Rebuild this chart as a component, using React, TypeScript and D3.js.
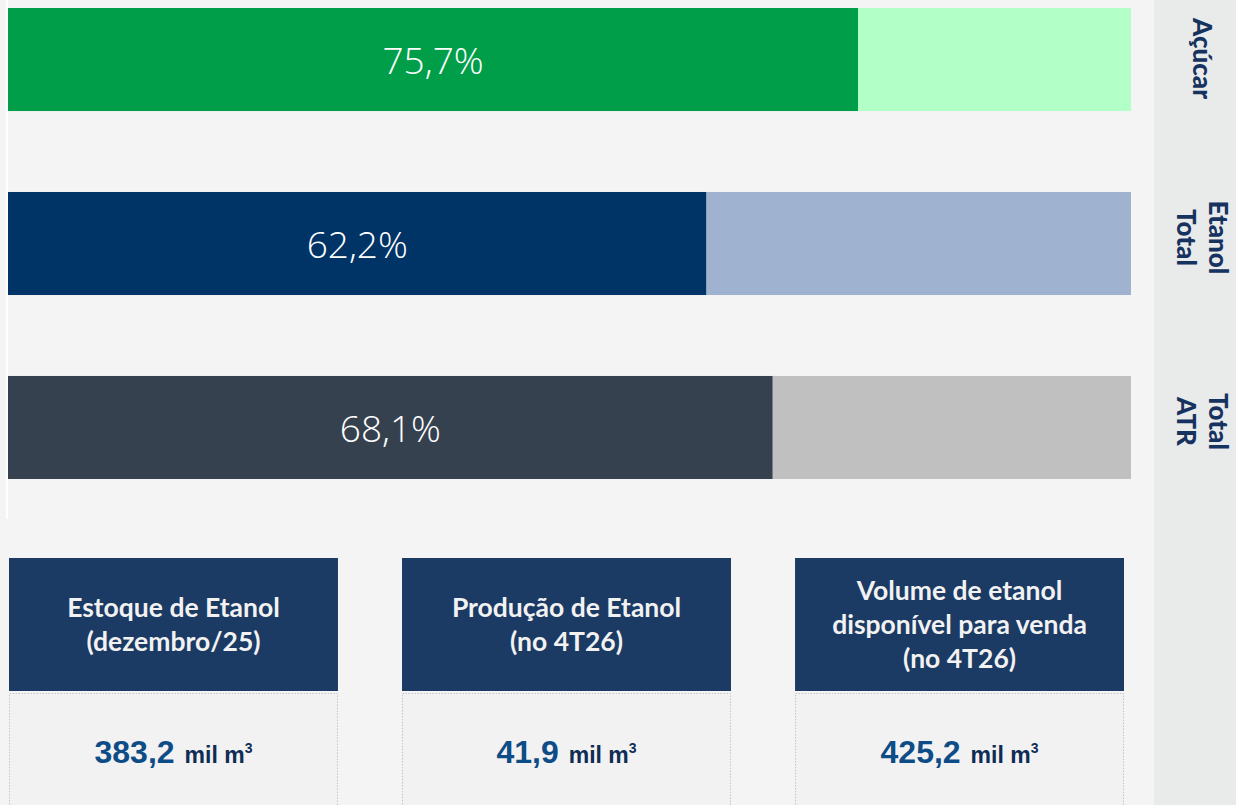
import React from "react";
import * as d3 from "d3";

const categories = ["Açúcar", "Etanol Total", "Total ATR"];
const categoryLines = [["Açúcar"], ["Etanol", "Total"], ["Total", "ATR"]];
const shares = [0.757, 0.622, 0.681];
const shareLabels = ["75,7%", "62,2%", "68,1%"];
const darkColors = ["#009e49", "#003366", "#36414f"];
const lightColors = ["#b3ffc8", "#9fb3d1", "#c0c0c0"];

const cardTitles = [
  ["Estoque de Etanol", "(dezembro/25)"],
  ["Produção de Etanol", "(no 4T26)"],
  ["Volume de etanol", "disponível para venda", "(no 4T26)"],
];
const cardValues = ["383,2", "41,9", "425,2"];
const cardUnit = "mil m";

const W = 1236;
const H = 805;

export default function App() {
  const x = d3.scaleLinear().domain([0, 1]).range([8, 1131]);
  const y = d3
    .scaleBand<string>()
    .domain(categories)
    .range([8, 479])
    .paddingInner(0.44)
    .paddingOuter(0);
  const cardX = d3
    .scaleBand<string>()
    .domain(cardValues)
    .range([9, 1124])
    .paddingInner(0.163)
    .paddingOuter(0);

  return (
    <svg
      width={W}
      height={H}
      style={{ position: "absolute", left: 0, top: 0, display: "block" }}
    >
      <rect x={0} y={0} width={W} height={H} fill="#f4f4f4" />
      <rect x={1154} y={0} width={W - 1154} height={H} fill="#e9eaea" />
      <line x1={7} x2={7} y1={0} y2={519} stroke="#ffffff" strokeWidth={2} />
      {categories.map((c, i) => {
        const y0 = y(c)!;
        const bh = y.bandwidth();
        const xs = x(shares[i]);
        return (
          <g key={c}>
            <rect x={x(0)} y={y0} width={xs - x(0)} height={bh} fill={darkColors[i]} />
            <rect x={xs} y={y0} width={x(1) - xs} height={bh} fill={lightColors[i]} />
            <text
              x={(x(0) + xs) / 2}
              y={y0 + bh / 2}
              textAnchor="middle"
              dominantBaseline="central"
              fill="#ffffff"
              fontFamily="'Open Sans', sans-serif"
              fontWeight={300}
              fontSize={37}
            >
              {shareLabels[i]}
            </text>
            <g transform={`translate(${1203},${y0 + bh / 2 - (i === 0 ? 1 : 6)}) rotate(90)`}>
              {categoryLines[i].map((ln, j) => {
                const n = categoryLines[i].length;
                const off = (j - (n - 1) / 2) * 32;
                return (
                  <text
                    key={ln + j}
                    x={0}
                    y={off}
                    textAnchor="middle"
                    dominantBaseline="central"
                    fill="#16325f"
                    fontFamily="Lato, 'Open Sans', sans-serif"
                    fontWeight={900}
                    fontSize={26}
                  >
                    {ln}
                  </text>
                );
              })}
            </g>
          </g>
        );
      })}
      {cardValues.map((v, i) => {
        const cx = cardX(v)!;
        const cw = cardX.bandwidth();
        const lines = cardTitles[i];
        const mid = 624;
        return (
          <g key={v}>
            <rect x={cx} y={558} width={cw} height={133} fill="#1b3a64" />
            {lines.map((ln, j) => (
              <text
                key={j}
                x={cx + cw / 2}
                y={mid + (j - (lines.length - 1) / 2) * 34}
                textAnchor="middle"
                dominantBaseline="central"
                fill="#f2f2f2"
                fontFamily="Lato, 'Open Sans', sans-serif"
                fontWeight={700}
                fontSize={26.5}
              >
                {ln}
              </text>
            ))}
            <rect
              x={cx + 0.5}
              y={693.5}
              width={cw - 1}
              height={140}
              fill="#f2f2f2"
              stroke="#c4c4c4"
              strokeWidth={1}
              strokeDasharray="1.5 1.5"
            />
            <text
              x={cx + cw / 2}
              y={763}
              textAnchor="middle"
              fontFamily="'Liberation Sans', Arial, sans-serif"
              fontWeight={700}
            >
              <tspan fontSize={32} fill="#0d4c86">
                {v}
              </tspan>
              <tspan fontSize={23} fill="#0f2c55" dx={10}>
                {cardUnit}
              </tspan>
              <tspan fontSize={14} fill="#0f2c55" dy={-10}>
                3
              </tspan>
            </text>
          </g>
        );
      })}
    </svg>
  );
}
